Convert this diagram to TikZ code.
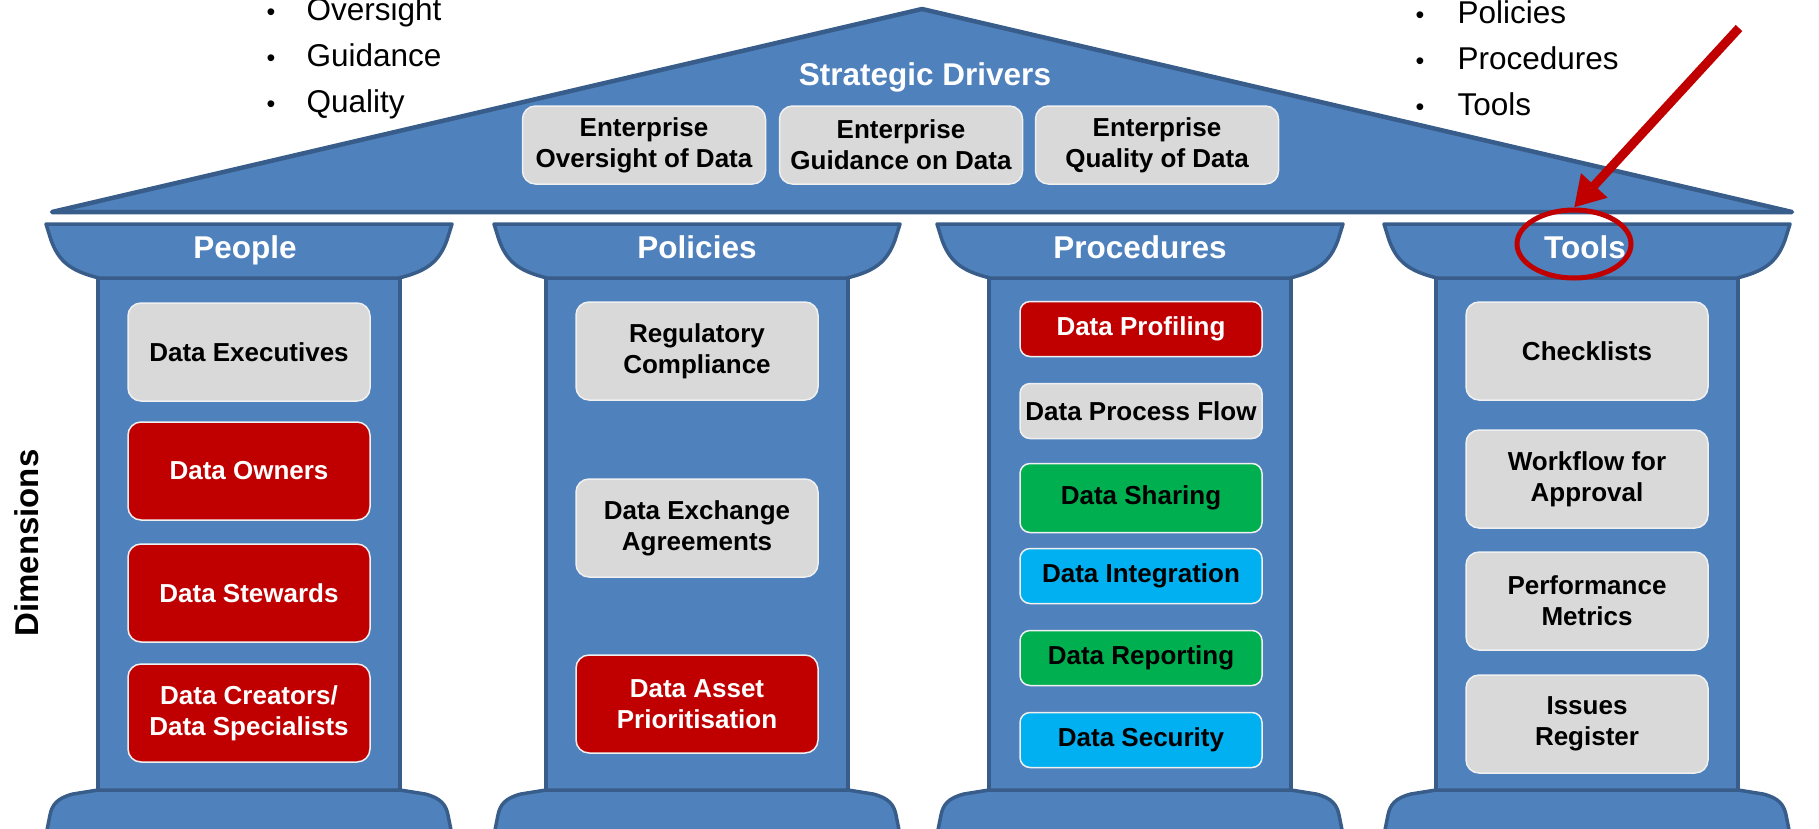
\documentclass[tikz,border=0pt]{standalone}
\usepackage{fontspec}
\setmainfont{Liberation Sans}
\usetikzlibrary{arrows.meta,shapes.geometric}
\definecolor{pblue}{RGB}{79,129,189}
\definecolor{pedge}{RGB}{56,93,138}
\definecolor{bgray}{RGB}{217,217,217}
\definecolor{bred}{RGB}{192,0,0}
\definecolor{bgreen}{RGB}{0,176,80}
\definecolor{bcyan}{RGB}{0,176,240}
\begin{document}
\begin{tikzpicture}[x=1pt,y=-1pt,
  stone/.style={fill=pblue,draw=pedge,line width=3.5pt,line join=round},
  card/.style={rounded corners=13pt,draw=white!94!black,line width=1.5pt,inner sep=0pt,
    align=center,font=\fontsize{26}{31}\selectfont\bfseries,minimum width=242pt},
  tallcard/.style={card,minimum height=98pt},
  shortcard/.style={card,minimum height=55pt,rounded corners=10pt},
  gcard/.style={fill=bgray,text=black},
  rcard/.style={fill=bred,text=white},
  grcard/.style={fill=bgreen,text=black},
  ccard/.style={fill=bcyan,text=black},
  captext/.style={anchor=base,text=white,font=\fontsize{31.5}{36}\selectfont\bfseries},
  bullettext/.style={anchor=base west,font=\fontsize{31.5}{36}\selectfont},
  bulletdot/.style={anchor=base,font=\fontsize{25}{28}\selectfont}
]
\useasboundingbox (0,0) rectangle (1819,828);

% roof
\draw[stone,line width=4.5pt] (52,212) -- (922,9) -- (1792,212) -- cycle;
\node[anchor=base,text=white,font=\fontsize{31.5}{36}\selectfont\bfseries] (strat) at (925,85) {Strategic Drivers};
\node[card,gcard,minimum width=243pt,minimum height=78pt] (ent1) at (644,145) {Enterprise\\Oversight of Data};
\node[card,gcard,minimum width=243pt,minimum height=78pt] (ent2) at (901,145) {Enterprise\\Guidance on Data};
\node[card,gcard,minimum width=243pt,minimum height=78pt] (ent3) at (1157,145) {Enterprise\\Quality of Data};

% pillars
\foreach \cx in {249,697,1140,1587}{
  \draw[stone] ({\cx-151},276) rectangle ({\cx+151},791);
  \draw[stone] ({\cx-203},224) -- ({\cx+203},224) -- ({\cx+198},240)
     .. controls ({\cx+190},262) and ({\cx+178},271) .. ({\cx+150},278)
     -- ({\cx-150},278) .. controls ({\cx-178},271) and ({\cx-190},262) .. ({\cx-198},240) -- cycle;
  \draw[stone] ({\cx-151},790) -- ({\cx+151},790) -- ({\cx+176},794)
     .. controls ({\cx+192},798) and ({\cx+197},805) .. ({\cx+199},815)
     -- ({\cx+205},845) -- ({\cx-205},845) -- ({\cx-199},815)
     .. controls ({\cx-197},805) and ({\cx-192},798) .. ({\cx-176},794) -- cycle;
}
\node[captext] (cpeople) at (245,258) {People};
\node[captext] (cpolicies) at (697,258) {Policies};
\node[captext] (cprocedures) at (1140,258) {Procedures};
\node[captext] (ctools) at (1585,258) {Tools};

% People
\node[tallcard,gcard] (pexec) at (249,352) {Data Executives};
\node[tallcard,rcard] (pown) at (249,471) {Data Owners};
\node[tallcard,rcard] (pstew) at (249,593) {Data Stewards};
\node[tallcard,rcard] (pcreat) at (249,713) {Data Creators/\\Data Specialists};

% Policies
\node[tallcard,gcard] (preg) at (697,351) {Regulatory\\Compliance};
\node[tallcard,gcard] (pexch) at (697,528) {Data Exchange\\Agreements};
\node[tallcard,rcard] (passet) at (697,704) {Data Asset\\Prioritisation};

% Procedures
\node[shortcard,rcard] (rprof) at (1141,329) {Data Profiling};
\node[shortcard,gcard] (rflow) at (1141,411) {Data Process Flow};
\node[shortcard,grcard,minimum height=69pt] (rshare) at (1141,498) {Data Sharing};
\node[shortcard,ccard] (rinteg) at (1141,576) {Data Integration};
\node[shortcard,grcard] (rrep) at (1141,658) {Data Reporting};
\node[shortcard,ccard] (rsec) at (1141,740) {Data Security};

% Tools
\node[tallcard,gcard] (tcheck) at (1587,351) {Checklists};
\node[tallcard,gcard] (tflow) at (1587,479) {Workflow for\\Approval};
\node[tallcard,gcard] (tperf) at (1587,601) {Performance\\Metrics};
\node[tallcard,gcard] (tissue) at (1587,724) {Issues\\Register};

% side label
\node[rotate=90,font=\fontsize{33}{38}\selectfont\bfseries] (dims) at (27,543) {Dimensions};

% bullet lists
\node[bulletdot] (lb1) at (271,20) {•};
\node[bullettext] (lt1) at (303,20) {Oversight};
\node[bulletdot] (lb2) at (271,66) {•};
\node[bullettext] (lt2) at (303,66) {Guidance};
\node[bulletdot] (lb3) at (271,112) {•};
\node[bullettext] (lt3) at (303,112) {Quality};

\node[bulletdot] (rb1) at (1420,23) {•};
\node[bullettext] (rt1) at (1454,23) {Policies};
\node[bulletdot] (rb2) at (1420,69) {•};
\node[bullettext] (rt2) at (1454,69) {Procedures};
\node[bulletdot] (rb3) at (1420,115) {•};
\node[bullettext] (rt3) at (1454,115) {Tools};

% highlight
\node[ellipse,draw=bred,line width=5pt,minimum width=114pt,minimum height=68pt,inner sep=0pt] (ring) at (1574,244) {};
\coordinate (arrowtail) at (1739,28);
\draw[bred,line width=9pt,-{Triangle[length=30pt,width=34pt]}] (arrowtail) -- (ring.north);
\end{tikzpicture}
\end{document}
